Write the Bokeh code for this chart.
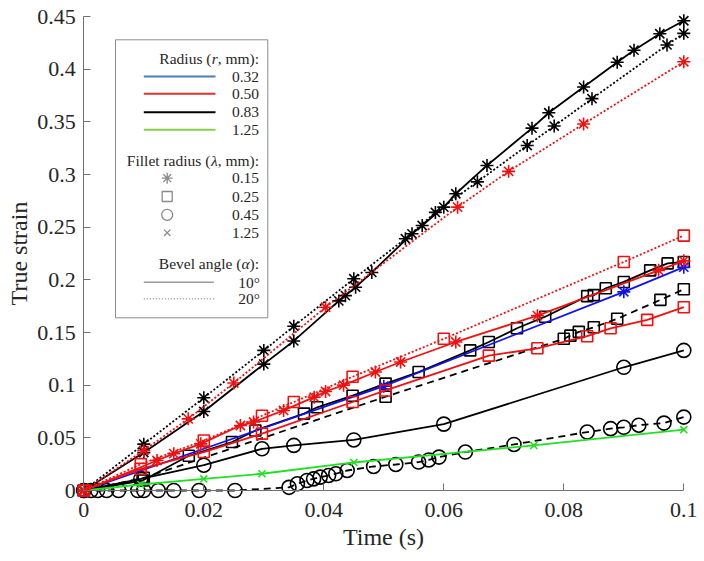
from bokeh.plotting import figure
from bokeh.models import Range1d, FixedTicker
from bokeh.embed import file_html
from bokeh.resources import INLINE
from bokeh.core.properties import value

# ---------------- data ----------------
x_r083_l015_a10 = [0, 0.01, 0.02, 0.03, 0.035, 0.0425, 0.0436, 0.0453, 0.048, 0.0547, 0.0564,
                   0.06, 0.062, 0.0672, 0.0747, 0.0775, 0.0833, 0.0889, 0.0917, 0.096, 0.1]
y_r083_l015_a10 = [0, 0.036, 0.075, 0.12, 0.142, 0.180, 0.185, 0.193, 0.207, 0.2437, 0.2516,
                   0.269, 0.2817, 0.3086, 0.344, 0.3586, 0.383, 0.4066, 0.418, 0.4336, 0.446]

x_r083_l015_a20 = [0, 0.01, 0.02, 0.03, 0.035, 0.045, 0.0536, 0.0586, 0.0656, 0.0739, 0.0784,
                   0.0847, 0.0972, 0.1]
y_r083_l015_a20 = [0, 0.044, 0.088, 0.133, 0.156, 0.201, 0.239, 0.264, 0.293, 0.3275, 0.346,
                   0.372, 0.423, 0.434]

x_r050_l015_a20 = [0, 0.01, 0.0174, 0.025, 0.0403, 0.0623, 0.0708, 0.0833, 0.1]
y_r050_l015_a20 = [0, 0.038, 0.068, 0.102, 0.174, 0.269, 0.303, 0.348, 0.407]

x_r050_l015_a10 = [0, 0.0122, 0.015, 0.0195, 0.0261, 0.0283, 0.0333, 0.0384, 0.0403, 0.0433,
                   0.0486, 0.0528, 0.062, 0.0756, 0.0958, 0.1]
y_r050_l015_a10 = [0, 0.0285, 0.035, 0.0443, 0.0617, 0.065, 0.076, 0.0886, 0.094, 0.100,
                   0.1125, 0.122, 0.141, 0.166, 0.209, 0.218]

x_r050_l025_a20 = [0, 0.0095, 0.02, 0.0297, 0.035, 0.0448, 0.06, 0.09, 0.1]
y_r050_l025_a20 = [0, 0.025, 0.0475, 0.071, 0.084, 0.108, 0.144, 0.217, 0.242]

x_r050_l025_a10 = [0, 0.0095, 0.02, 0.0297, 0.0448, 0.0503, 0.0675, 0.0756, 0.0839, 0.0878,
                   0.0939, 0.1]
y_r050_l025_a10 = [0, 0.0206, 0.0365, 0.054, 0.084, 0.095, 0.128, 0.135, 0.1465, 0.154,
                   0.162, 0.174]

x_r032_l015_a10 = [0, 0.05, 0.09, 0.1]
y_r032_l015_a10 = [0, 0.099, 0.1886, 0.212]

x_r083_l025_a10 = [0, 0.0098, 0.0175, 0.0247, 0.0286, 0.0367, 0.0389, 0.0448, 0.0503, 0.0558,
                   0.0644, 0.0675, 0.0722, 0.0769, 0.0839, 0.085, 0.087, 0.09, 0.0944, 0.0973, 0.1]
y_r083_l025_a10 = [0, 0.0095, 0.033, 0.046, 0.057, 0.073, 0.079, 0.090, 0.1015, 0.1125,
                   0.133, 0.141, 0.154, 0.165, 0.1845, 0.1855, 0.192, 0.198, 0.209, 0.2156, 0.217]

x_r083_l025_dash = [0, 0.01, 0.0503, 0.08, 0.0811, 0.0825, 0.085, 0.0889, 0.0961, 0.1]
y_r083_l025_dash = [0, 0.012, 0.089, 0.144, 0.147, 0.1506, 0.155, 0.163, 0.181, 0.191]

x_r083_l045_a10 = [0, 0.0095, 0.02, 0.0297, 0.035, 0.045, 0.06, 0.09, 0.1]
y_r083_l045_a10 = [0, 0.011, 0.024, 0.0396, 0.0428, 0.048, 0.063, 0.117, 0.133]

x_r083_l045_dash = [0, 0.0012, 0.0023, 0.0038, 0.0058, 0.009, 0.010, 0.0124, 0.015, 0.0192,
                    0.0252, 0.0342, 0.0356, 0.0372, 0.0383, 0.0394, 0.0408, 0.042, 0.0439,
                    0.0483, 0.052, 0.0558, 0.0575, 0.0592, 0.0636, 0.0717, 0.0839, 0.0878,
                    0.09, 0.0925, 0.0967, 0.1]
y_r083_l045_dash = [0, 0, 0, 0, 0, 0, 0, 0, 0, 0,
                    0, 0.003, 0.0064, 0.0095, 0.011, 0.0127, 0.0143, 0.0159, 0.019,
                    0.0228, 0.0247, 0.027, 0.029, 0.0317, 0.0365, 0.0437, 0.0555, 0.0587,
                    0.060, 0.062, 0.064, 0.0697]

x_r125_l125_a10 = [0, 0.0095, 0.02, 0.0297, 0.045, 0.075, 0.1]
y_r125_l125_a10 = [0, 0.0057, 0.011, 0.0159, 0.0266, 0.0428, 0.0577]

x_ticks = [0, 0.02, 0.04, 0.06, 0.08, 0.1]
x_tick_labels = ["0", "0.02", "0.04", "0.06", "0.08", "0.1"]
y_ticks = [0, 0.05, 0.1, 0.15, 0.2, 0.25, 0.3, 0.35, 0.4, 0.45]
y_tick_labels = ["0", "0.05", "0.1", "0.15", "0.2", "0.25", "0.3", "0.35", "0.4", "0.45"]

radius_labels = ["0.32", "0.50", "0.83", "1.25"]
fillet_labels = ["0.15", "0.25", "0.45", "1.25"]
bevel_labels = ["10°", "20°"]

# ---------------- layout ----------------
W, H = 704, 561
X0, KX = 83.3, 6000.0          # canvas px of x=0, px per unit
Y0, KY = 490.0, 474.0 / 0.45   # canvas px of y=0, px per unit

x_start = (0 - X0) / KX
x_end = (W - X0) / KX
y_end = Y0 / KY
y_start = (Y0 - H) / KY

FONT = value("Liberation Serif")
BLACK = "#000000"
RED = "#f01010"
BLUE = "#1010f0"
GREEN = "#22e022"

p = figure(width=W, height=H, x_range=Range1d(x_start, x_end), y_range=Range1d(y_start, y_end),
           output_backend="svg", toolbar_location=None,
           min_border_left=0, min_border_right=0, min_border_top=0, min_border_bottom=0)
p.grid.visible = False
p.outline_line_color = None
p.background_fill_color = "white"
p.border_fill_color = "white"

for ax in (p.xaxis[0], p.yaxis[0]):
    ax.fixed_location = 0
    ax.axis_line_color = "#707070"
    ax.major_tick_line_color = "#707070"
    ax.major_tick_in = 7
    ax.major_tick_out = 0
    ax.minor_tick_line_color = None
    ax.major_label_text_font = "Liberation Serif"
    ax.major_label_text_font_size = "22px"
    ax.major_label_text_color = "#262626"
    ax.axis_label_text_font = "Liberation Serif"
    ax.axis_label_text_font_size = "24px"
    ax.axis_label_text_font_style = "normal"
    ax.axis_label_text_color = "#262626"

p.xaxis[0].ticker = FixedTicker(ticks=x_ticks)
p.xaxis[0].major_label_overrides = dict(zip(x_ticks, x_tick_labels))
p.xaxis[0].bounds = (0, 0.1)
p.xaxis[0].axis_label = "Time (s)"
p.xaxis[0].major_label_standoff = 12
p.xaxis[0].axis_label_standoff = 4

p.yaxis[0].ticker = FixedTicker(ticks=y_ticks)
p.yaxis[0].major_label_overrides = dict(zip(y_ticks, y_tick_labels))
p.yaxis[0].bounds = (0, 0.45)
p.yaxis[0].axis_label = "True strain"
p.yaxis[0].major_label_standoff = 8
p.yaxis[0].axis_label_standoff = 2

LW = 1.8
DOT = "2 2"
DASH = "7 5"


def series(xs, ys, color, dash, marker, size):
    p.line(xs, ys, line_color=color, line_width=LW, line_dash=dash)
    p.scatter(xs, ys, marker=marker, size=size, line_color=color, line_width=1.6,
              fill_alpha=0)


series(x_r083_l045_dash, y_r083_l045_dash, BLACK, DASH, "circle", 14)
series(x_r083_l045_a10, y_r083_l045_a10, BLACK, "solid", "circle", 14)
series(x_r083_l025_dash, y_r083_l025_dash, BLACK, DASH, "square", 11)
series(x_r083_l025_a10, y_r083_l025_a10, BLACK, "solid", "square", 11)
series(x_r083_l015_a20, y_r083_l015_a20, BLACK, DOT, "asterisk", 13)
series(x_r083_l015_a10, y_r083_l015_a10, BLACK, "solid", "asterisk", 13)
series(x_r125_l125_a10, y_r125_l125_a10, GREEN, "solid", "x", 10)
series(x_r032_l015_a10, y_r032_l015_a10, BLUE, "solid", "asterisk", 13)
series(x_r050_l025_a10, y_r050_l025_a10, RED, "solid", "square", 11)
series(x_r050_l025_a20, y_r050_l025_a20, RED, DOT, "square", 11)
series(x_r050_l015_a10, y_r050_l015_a10, RED, "solid", "asterisk", 13)
series(x_r050_l015_a20, y_r050_l015_a20, RED, DOT, "asterisk", 13)

# ---------------- custom legend (canvas px -> data) ----------------


def fx(px):
    return (px - X0) / KX


def fy(py):
    return (Y0 - py) / KY


p.quad(left=[fx(115)], right=[fx(267.3)], top=[fy(39.3)], bottom=[fy(317.3)],
       fill_color="white", line_color="#8c8c8c", line_width=1)

LF = 15.5
TXT = "#262626"
RX = 258.5


def ltext(px, py, s, style="normal"):
    p.text([fx(px)], [fy(py)], text=[s], text_font=FONT, text_font_size=f"{LF}px",
           text_font_style=style, text_align="right", text_baseline="middle", text_color=TXT)


def header(py, pre, ital, post, post_em, ital_em):
    ltext(RX, py, post)
    ltext(RX - post_em * LF, py, ital, "italic")
    ltext(RX - (post_em + ital_em) * LF, py, pre)


header(58.3, "Radius (", "r", ", mm):", 2.667, 0.40)
header(160.0, "Fillet radius (", "λ", ", mm):", 2.667, 0.47)
header(263.3, "Bevel angle (", "α", "):", 0.611, 0.52)

rad_rows = [76.0, 93.3, 111.7, 129.3]
rad_colors = ["#4a7cc0", "#e5302a", "#000000", "#86cf4a"]
for py, c, lab in zip(rad_rows, rad_colors, radius_labels):
    p.line([fx(143.3), fx(215)], [fy(py), fy(py)], line_color=c, line_width=2)
    ltext(RX, py, lab)

fil_rows = [177.7, 196.0, 214.3, 232.3]
fil_markers = [("asterisk", 11), ("square", 10), ("circle", 11), ("x", 9)]
for py, (m, s), lab in zip(fil_rows, fil_markers, fillet_labels):
    p.scatter([fx(166.7)], [fy(py)], marker=m, size=s, line_color="#8a8a8a", line_width=1.3,
              fill_alpha=0)
    ltext(RX, py, lab)

bev_rows = [281.7, 298.3]
bev_dash = ["solid", "1 2"]
for py, d, lab in zip(bev_rows, bev_dash, bevel_labels):
    p.line([fx(143.3), fx(213.3)], [fy(py), fy(py)], line_color="#9a9a9a", line_width=1.6,
           line_dash=d)
    ltext(RX + 1, py, lab)

open("out.html", "w").write(file_html(p, INLINE))
